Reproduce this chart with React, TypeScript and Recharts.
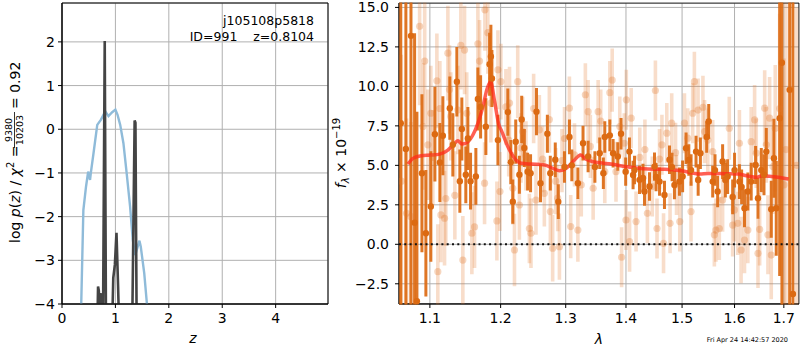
import React from "react";
import {
  ComposedChart,
  Line,
  Scatter,
  ErrorBar,
  XAxis,
  YAxis,
  CartesianGrid,
  ReferenceLine,
  ReferenceArea,
} from "recharts";

const FONT = "DejaVu Sans";

// ---- left panel: log p(z) ----
const zTicks = [0, 1, 2, 3, 4];
const logpTicks = [-4, -3, -2, -1, 0, 1, 2];

// smooth blue curve
const chiZ = [0.34, 0.36, 0.40, 0.45, 0.49, 0.525, 0.54, 0.59, 0.66, 0.73, 0.81, 0.87, 0.94, 1.0, 1.04, 1.09, 1.15, 1.21, 1.275, 1.325, 1.37, 1.40, 1.45, 1.475, 1.54, 1.59, 1.61];
const chiLogP = [-4.6, -4.0, -1.85, -1.31, -0.97, -1.16, -1.0, -0.55, 0.1, 0.22, 0.41, 0.3, 0.39, 0.45, 0.33, 0.1, -0.32, -1.0, -1.77, -2.53, -2.88, -2.76, -2.55, -2.69, -3.3, -4.0, -4.3];

// spiky dark curve
const pzZ = [0.6, 0.655, 0.675, 0.69, 0.7, 0.72, 0.74, 0.765, 0.8, 0.825, 0.93, 0.96, 0.99, 1.02, 1.05, 1.08, 1.31, 1.36, 1.375, 1.4, 1.6];
const pzLogP = [-5, -5, -3.6, -3.7, -4.2, -3.75, -3.95, -5, 2.02, -5, -5, -3.4, -3.1, -2.37, -3.6, -5, -5, 0.2, 0.15, -5, -5];

// ---- right panel: spectrum ----
const lamTicks = [1.1, 1.2, 1.3, 1.4, 1.5, 1.6, 1.7];
const fluxTicks = [-2.5, 0, 2.5, 5, 7.5, 10, 12.5, 15];

const darkLam = [
  1.0613, 1.068, 1.0747, 1.0795, 1.0826, 1.0893, 1.0946, 1.1013, 1.1068, 1.1136,
  1.1177, 1.1273, 1.1315, 1.1371, 1.1413, 1.1441, 1.1497, 1.1526, 1.1564, 1.164,
  1.1669, 1.1708, 1.1784, 1.1838, 1.1857, 1.1872, 1.196, 1.2107, 1.2151, 1.2181,
  1.2225, 1.228, 1.2315, 1.2355, 1.2405, 1.245, 1.2541, 1.2603, 1.271, 1.2756,
  1.2834, 1.2882, 1.298, 1.306, 1.3098, 1.3196, 1.328, 1.3363, 1.3475, 1.3555,
  1.364, 1.3725, 1.378, 1.386, 1.3915, 1.406, 1.4148, 1.4235, 1.4323, 1.4411,
  1.45, 1.459, 1.4679, 1.477, 1.486, 1.4952, 1.5074, 1.5167, 1.526, 1.5342,
  1.5461, 1.55, 1.5576, 1.5671, 1.5767, 1.5864, 1.5963, 1.6096, 1.6197, 1.6264,
  1.6331, 1.6468, 1.6535, 1.6637, 1.6739, 1.6794, 1.6842, 1.6913, 1.696, 1.7122,
  1.7191, 1.3616, 1.3995, 1.4123, 1.4296, 1.4528, 1.4817, 1.501, 1.5125, 1.53,
  1.562, 1.582, 1.6, 1.614, 1.642, 1.659,
];
const darkFlux = [
  7.67, 6.04, 13.2, 1.37, -3.6, 4.5, 0.7, 2.4, 6.97, 5.18,
  6.87, 8.62, 6.3, 10.3, 4.0, 7.3, 4.4, 6.7, 4.0, 4.3,
  9.2, 8.7, 7.45, 11.4, 11.9, 10.5, 6.6, 8.37, 5.2, 2.7,
  6.5, 4.4, 7.9, 6.1, 4.6, 4.5, 8.4, 3.87, 7.0, 4.5,
  5.35, 2.7, 4.9, 6.8, 5.0, 3.87, 6.4, 5.56, 4.9, 5.77,
  6.8, 6.9, 5.77, 5.56, 7.0, 5.87, 4.7, 4.08, 3.34, 3.66,
  4.92, 3.97, 3.13, 5.35, 3.76, 3.97, 6.08, 4.7, 5.87, 5.77,
  6.8, 7.78, 3.97, 3.34, 5.24, 4.29, 3.0, 3.97, 2.28, 3.34,
  3.97, 2.92, 4.7, 5.87, 2.22, 5.45, 2.28, 7.99, 11.5, 9.78,
  -3.15, 4.5, 4.6, 4.39, 4.2, 4.26, 4.89, 4.3, 5.34, 4.07,
  4.7, 4.07, 4.7, 3.63, 5.02, 4.4,
];
const darkErr = [
  20, 20, 20, 12, 12, 5, 4, 3.5, 3, 2.5,
  2.5, 2, 2, 2.2, 2, 2, 1.8, 2, 1.8, 1.8,
  2, 2, 1.8, 2, 2, 1.8, 1.6, 1.5, 1.4, 1.4,
  1.4, 1.2, 1.5, 1.2, 1.2, 1.2, 1.5, 1.2, 1.2, 1.1,
  1.1, 1.1, 1.0, 1.1, 1.0, 1.0, 1.1, 1.0, 1.0, 1.0,
  1.0, 1.0, 0.9, 0.9, 1.0, 0.9, 0.9, 0.9, 0.9, 0.9,
  0.9, 0.9, 0.9, 0.9, 0.9, 0.9, 1.0, 1.0, 1.0, 1.0,
  1.0, 1.1, 1.0, 1.0, 1.1, 1.1, 1.1, 1.1, 1.2, 1.2,
  1.2, 1.3, 1.4, 1.5, 1.8, 2.5, 3, 10, 20, 20,
  20, 1.0, 0.9, 0.9, 0.9, 0.9, 0.9, 1.0, 1.0, 1.0,
  1.0, 1.1, 1.1, 1.1, 1.2, 1.3,
];

const lightLam = [
  1.062, 1.0689, 1.0747, 1.0862, 1.0907, 1.093, 1.0973, 1.1013, 1.104, 1.1095,
  1.1108, 1.1136, 1.115, 1.12, 1.1218, 1.1246, 1.1269, 1.1287, 1.1343, 1.1385,
  1.1427, 1.1455, 1.1479, 1.151, 1.1583, 1.1621, 1.1669, 1.1693, 1.1765, 1.177,
  1.1813, 1.1857, 1.1945, 1.196, 1.199, 1.2004, 1.2078, 1.212, 1.2132, 1.2181,
  1.2206, 1.2255, 1.228, 1.2304, 1.233, 1.238, 1.2432, 1.2456, 1.2497, 1.2533,
  1.2585, 1.2636, 1.2663, 1.2741, 1.2757, 1.2793, 1.2842, 1.2873, 1.29, 1.294,
  1.2981, 1.3059, 1.308, 1.3141, 1.3196, 1.3251, 1.3318, 1.3363, 1.34, 1.3446,
  1.3529, 1.3572, 1.364, 1.3725, 1.3765, 1.3829, 1.3894, 1.3925, 1.3971, 1.4,
  1.4006, 1.4062, 1.409, 1.4175, 1.424, 1.433, 1.4374, 1.446, 1.4516, 1.4545,
  1.459, 1.4633, 1.4662, 1.4721, 1.478, 1.481, 1.488, 1.4898, 1.4958, 1.5044,
  1.5105, 1.5166, 1.5197, 1.5229, 1.5298, 1.539, 1.5421, 1.5482, 1.5576, 1.5608,
  1.5638, 1.5703, 1.5767, 1.5897, 1.5963, 1.5996, 1.6063, 1.6096, 1.6129, 1.6197,
  1.6264, 1.6331, 1.64, 1.6433, 1.6468, 1.6502, 1.6604, 1.6637, 1.6671, 1.6706,
  1.6739, 1.6773, 1.6821, 1.6913, 1.7002, 1.7045, 1.727,
];
const lightFlux = [
  4.0, 1.96, 1.75, 13.8, 7.46, 11.6, 6.3, 8.3, 5.5, 10.35,
  -1.73, 8.6, 1.86, 1.65, 2.9, 12.1, 9.8, 8.1, 3.1, 8.5,
  12.6, -1.0, 12.3, 8.3, 0.7, 1.1, 12.7, 11.6, 3.87, 14.85,
  13.4, 8.94, 1.48, 11.05, 3.34, 10.3, 8.7, 6.6, 8.94, 3.55,
  -0.36, 10.3, 2.49, 6.1, 7.14, 5.6, 1.0, 0.7, 8.6, 2.8,
  7.25, 5.4, 3.23, 7.9, 2.07, -0.25, 4.0, 2.92, -0.15, 5.3,
  6.7, 8.62, 1.12, 5.66, 0.9, 3.76, 9.47, 8.4, 6.2, 3.55,
  8.4, 7.8, 4.6, 9.6, 10.4, 4.6, 7.46, -0.82, 6.4, 1.54,
  9.15, 0.17, 7.99, 1.44, 5.5, 6.0, 1.96, 3.66, 9.74, 1.0,
  5.4, 6.3, 0.06, 7.04, 1.33, 7.67, 5.8, 3.76, 1.44, 7.67,
  6.72, 2.07, 8.3, 10.3, 8.5, 8.68, 7.14, 6.6, 5.87, 0.6,
  0.9, 1.0, 2.8, 7.35, 1.22, 2.18, 1.33, 6.4, -0.36, 0.27,
  0.9, 6.5, 7.88, 5.77, -0.57, 0.95, 8.62, 6.3, 0.6, 7.99,
  -0.68, 4.92, 7.35, 8.6, 3.76, 6.0, 5.0,
];
const lightErr = [
  8, 6, 6, 5, 4, 4, 3.5, 3, 3, 3,
  3, 3, 3, 3, 3, 3, 2.8, 2.8, 2.8, 2.8,
  2.8, 2.8, 2.8, 2.6, 2.6, 2.6, 2.6, 2.6, 2.6, 2.6,
  2.6, 2.5, 2.5, 2.5, 2.5, 2.4, 2.4, 2.3, 2.3, 2.3,
  2.3, 2.3, 2.2, 2.2, 2.2, 2.2, 2.2, 2.2, 2.2, 2.2,
  2.2, 2.1, 2.1, 2.1, 2.1, 2.1, 2.1, 2.1, 2.1, 2.0,
  2.0, 2.0, 2.0, 2.0, 2.0, 2.0, 2.0, 2.0, 2.0, 2.0,
  2.0, 2.0, 2.0, 2.0, 2.0, 1.9, 1.9, 1.9, 1.9, 1.9,
  1.9, 1.9, 1.9, 1.9, 1.9, 1.9, 1.9, 1.9, 1.9, 1.9,
  1.9, 1.9, 1.9, 1.9, 1.9, 1.9, 1.9, 1.9, 1.9, 1.9,
  1.9, 1.9, 1.9, 1.9, 2.0, 2.0, 2.0, 2.0, 2.0, 2.0,
  2.0, 2.0, 2.0, 2.0, 2.0, 2.0, 2.0, 2.1, 2.1, 2.1,
  2.1, 2.2, 2.2, 2.2, 2.2, 2.3, 2.4, 2.4, 2.5, 2.6,
  2.8, 3, 4, 6, 8, 10, 10,
];

// best-fit template
const modelLam = [1.0707, 1.0773, 1.0884, 1.1017, 1.1132, 1.1246, 1.1339, 1.1385, 1.1441, 1.1526, 1.1597, 1.1669, 1.1741, 1.1803, 1.1853, 1.1912, 1.1975, 1.2009, 1.2108, 1.2208, 1.2308, 1.246, 1.2667, 1.2797, 1.2903, 1.3008, 1.3116, 1.3241, 1.3332, 1.3443, 1.3554, 1.3749, 1.4005, 1.4384, 1.4683, 1.4986, 1.5329, 1.5486, 1.5808, 1.6069, 1.6268, 1.6435, 1.6536, 1.6879, 1.7101];
const modelFlux = [5.08, 5.44, 5.61, 5.65, 5.71, 5.97, 6.39, 6.56, 6.35, 6.49, 6.92, 7.66, 8.71, 9.87, 10.29, 9.03, 7.55, 7.23, 6.18, 5.44, 5.13, 5.08, 5.02, 4.81, 4.66, 4.81, 5.23, 5.65, 5.38, 5.23, 5.16, 5.08, 4.91, 4.77, 4.75, 4.66, 4.45, 4.49, 4.47, 4.45, 4.32, 4.24, 4.32, 4.24, 4.13];

const Z_DOMAIN: [number, number] = [0, 4.98];
const LOGP_DOMAIN: [number, number] = [-4, 2.89];
const LAM_DOMAIN: [number, number] = [1.059, 1.732];
const FLUX_DOMAIN: [number, number] = [-3.78, 15.28];

const minus = (s: string) => s.replace("-", "\u2212");

const tickStyle = { fill: "#000", fontSize: 14, fontFamily: FONT };
const black = { stroke: "#000", strokeWidth: 1 };

const lightDot = (p: any) => (
  <circle cx={p.cx} cy={p.cy} r={3.6} fill="#e0782a" fillOpacity={0.3} />
);
const darkDot = (p: any) => <circle cx={p.cx} cy={p.cy} r={3.2} fill="#dc6a12" />;

// right panel geometry (plot area x 59..459, y 3..304 inside a 460x350 chart)
const SPEC_W = 460;
const SPEC_MARGIN_AXES = { top: 3, right: 1, bottom: 0, left: 0 };
const SPEC_MARGIN_DATA = { top: 3, right: 1, bottom: 46, left: 59 };

const App = () => {
  const chiData = chiZ.map((z, i) => ({ z, v: chiLogP[i] }));
  const pzData = pzZ.map((z, i) => ({ z, v: pzLogP[i] }));
  const lightData = lightLam.map((lam, i) => ({ lam, f: lightFlux[i], e: lightErr[i] }));
  const darkData = darkLam.map((lam, i) => ({ lam, f: darkFlux[i], e: darkErr[i] }));
  const modelData = modelLam.map((lam, i) => ({ lam, m: modelFlux[i] }));

  return (
    <div
      style={{
        position: "absolute",
        left: 0,
        top: 0,
        width: 800,
        height: 350,
        background: "#fff",
        fontFamily: FONT,
      }}
    >
      {/* p(z) panel */}
      <div style={{ position: "absolute", left: 0, top: 0 }}>
        <ComposedChart width={340} height={350} margin={{ top: 3, right: 12, bottom: 0, left: 0 }}>
          <CartesianGrid stroke="#b0b0b0" strokeWidth={1} />
          <XAxis
            type="number"
            dataKey="z"
            domain={Z_DOMAIN}
            ticks={zTicks}
            allowDataOverflow
            interval={0}
            height={46}
            tick={tickStyle}
            tickLine={black}
            axisLine={black}
            tickSize={4}
            tickMargin={5}
          />
          <YAxis
            type="number"
            domain={LOGP_DOMAIN}
            ticks={logpTicks}
            allowDataOverflow
            interval={0}
            width={62}
            tick={tickStyle}
            tickLine={black}
            axisLine={black}
            tickSize={4}
            tickMargin={3}
            tickFormatter={(v: number) => minus(v.toFixed(0))}
          />
          <Line
            data={chiData}
            dataKey="v"
            stroke="#8fbbd9"
            strokeWidth={2.4}
            dot={false}
            activeDot={false}
            isAnimationActive={false}
          />
          <Line
            data={pzData}
            dataKey="v"
            stroke="#444"
            strokeWidth={2.6}
            dot={false}
            activeDot={false}
            isAnimationActive={false}
          />
          <ReferenceArea
            x1={Z_DOMAIN[0]}
            x2={Z_DOMAIN[1]}
            y1={LOGP_DOMAIN[0]}
            y2={LOGP_DOMAIN[1]}
            fill="none"
            stroke="#000"
            strokeWidth={1}
          />
        </ComposedChart>
      </div>

      {/* spectrum panel: axes and grid */}
      <div style={{ position: "absolute", left: 340, top: 0 }}>
        <ComposedChart width={SPEC_W} height={350} margin={SPEC_MARGIN_AXES}>
          <CartesianGrid stroke="#b0b0b0" strokeWidth={1} />
          <XAxis
            type="number"
            dataKey="lam"
            scale="log"
            domain={LAM_DOMAIN}
            ticks={lamTicks}
            allowDataOverflow
            interval={0}
            height={46}
            tick={tickStyle}
            tickLine={black}
            axisLine={black}
            tickSize={4}
            tickMargin={5}
            tickFormatter={(v: number) => v.toFixed(1)}
          />
          <YAxis
            type="number"
            domain={FLUX_DOMAIN}
            ticks={fluxTicks}
            allowDataOverflow
            interval={0}
            width={59}
            tick={tickStyle}
            tickLine={black}
            axisLine={black}
            tickSize={4}
            tickMargin={6}
            tickFormatter={(v: number) => minus(v.toFixed(1))}
          />
          <Line
            data={modelData}
            dataKey="m"
            stroke="none"
            dot={false}
            activeDot={false}
            isAnimationActive={false}
          />
        </ComposedChart>
      </div>

      {/* spectrum panel: data, clipped to the plot area */}
      <div
        style={{
          position: "absolute",
          left: 340,
          top: 0,
          clipPath: "inset(2.5px 0.5px 45.5px 58.5px)",
        }}
      >
        <ComposedChart width={SPEC_W} height={350} margin={SPEC_MARGIN_DATA}>
          <XAxis type="number" dataKey="lam" scale="log" domain={LAM_DOMAIN} allowDataOverflow hide />
          <YAxis type="number" domain={FLUX_DOMAIN} allowDataOverflow hide />
          <Scatter data={lightData} dataKey="f" shape={lightDot} isAnimationActive={false}>
            <ErrorBar
              dataKey="e"
              direction="y"
              width={0}
              stroke="rgba(228,125,50,0.26)"
              strokeWidth={3.6}
              isAnimationActive={false}
            />
          </Scatter>
          <Scatter data={darkData} dataKey="f" shape={darkDot} isAnimationActive={false}>
            <ErrorBar
              dataKey="e"
              direction="y"
              width={0}
              stroke="rgba(220,106,18,0.92)"
              strokeWidth={3}
              isAnimationActive={false}
            />
          </Scatter>
          <Line
            data={modelData}
            dataKey="m"
            type="monotone"
            stroke="#ff2a1a"
            strokeOpacity={0.75}
            strokeWidth={3.5}
            dot={false}
            activeDot={false}
            isAnimationActive={false}
          />
          <ReferenceLine y={0} stroke="#111" strokeWidth={2} strokeDasharray="2 3.3" />
          <ReferenceArea
            x1={LAM_DOMAIN[0]}
            x2={LAM_DOMAIN[1]}
            y1={FLUX_DOMAIN[0]}
            y2={FLUX_DOMAIN[1]}
            fill="none"
            stroke="#000"
            strokeWidth={1}
          />
        </ComposedChart>
      </div>

      {/* labels */}
      <svg
        width={800}
        height={350}
        style={{ position: "absolute", left: 0, top: 0, pointerEvents: "none" }}
        fontFamily={FONT}
      >
        <text x={314} y={25} fontSize={12.5} textAnchor="end" fill="#000">
          j105108p5818
        </text>
        <text x={314} y={41} fontSize={12.5} textAnchor="end" fill="#000" style={{ whiteSpace: "pre" }}>
          {"ID=991    z=0.8104"}
        </text>

        <text x={193} y={343} fontSize={14} fontStyle="italic" textAnchor="middle" fill="#000">
          z
        </text>
        <text x={599} y={344} fontSize={14} fontStyle="italic" textAnchor="middle" fill="#000">
          λ
        </text>
        <text x={788} y={342} fontSize={6.5} textAnchor="end" fill="#000">
          Fri Apr 24 14:42:57 2020
        </text>

        {/* left y label with fraction */}
        <g transform="translate(20,154) rotate(-90)" fill="#000">
          <text x={-89} y={0} fontSize={14} style={{ whiteSpace: "pre" }}>
            {"log "}
            <tspan fontStyle="italic">p</tspan>
            {"("}
            <tspan fontStyle="italic">z</tspan>
            {") / "}
            <tspan fontStyle="italic">χ</tspan>
            <tspan dy={-6} fontSize={10}>2</tspan>
            <tspan dy={6}>{" = "}</tspan>
          </text>
          <text x={24} y={-8} fontSize={9.5} textAnchor="middle">9380</text>
          <line x1={6} x2={42} y1={-5.5} y2={-5.5} stroke="#000" strokeWidth={0.8} />
          <text x={24} y={3} fontSize={9.5} textAnchor="middle">10203</text>
          <text x={45} y={0} fontSize={14} style={{ whiteSpace: "pre" }}>
            {"= 0.92"}
          </text>
        </g>

        {/* right y label */}
        <g transform="translate(346,153) rotate(-90)" fill="#000">
          <text x={0} y={0} fontSize={14} textAnchor="middle" style={{ whiteSpace: "pre" }}>
            <tspan fontStyle="italic">f</tspan>
            <tspan dy={3} fontSize={10} fontStyle="italic">λ</tspan>
            <tspan dy={-3}>{" × 10"}</tspan>
            <tspan dy={-6} fontSize={10}>{"\u221219"}</tspan>
          </text>
        </g>
      </svg>
    </div>
  );
};

export default App;
